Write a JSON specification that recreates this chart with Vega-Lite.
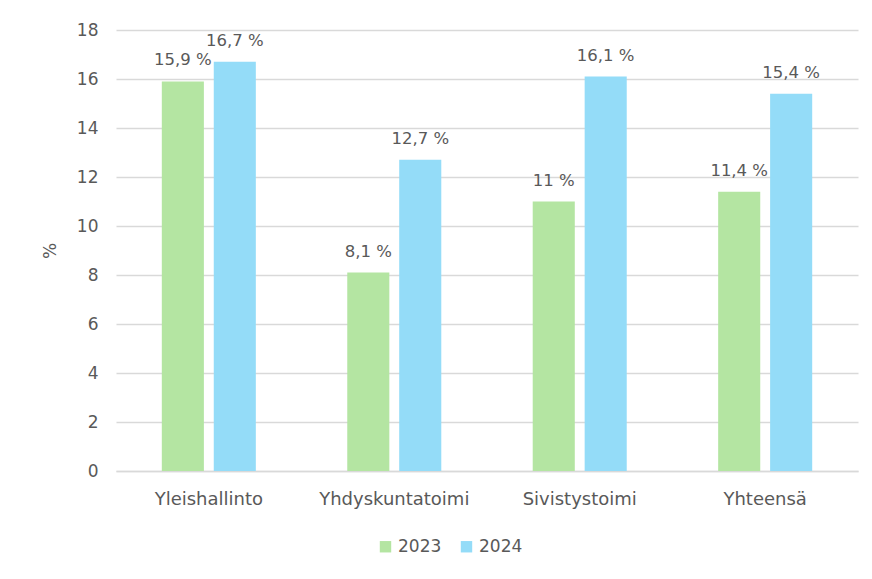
{
  "$schema": "https://vega.github.io/schema/vega-lite/v6.json",
  "width": 742,
  "height": 441,
  "padding": {"left": 41, "top": 21, "right": 15, "bottom": 10},
  "background": "white",
  "data": {
    "values": [
      {"category": "Yleishallinto", "year": "2023", "value": 15.9, "label": "15,9 %"},
      {"category": "Yleishallinto", "year": "2024", "value": 16.7, "label": "16,7 %"},
      {"category": "Yhdyskuntatoimi", "year": "2023", "value": 8.1, "label": "8,1 %"},
      {"category": "Yhdyskuntatoimi", "year": "2024", "value": 12.7, "label": "12,7 %"},
      {"category": "Sivistystoimi", "year": "2023", "value": 11, "label": "11 %"},
      {"category": "Sivistystoimi", "year": "2024", "value": 16.1, "label": "16,1 %"},
      {"category": "Yhteensä", "year": "2023", "value": 11.4, "label": "11,4 %"},
      {"category": "Yhteensä", "year": "2024", "value": 15.4, "label": "15,4 %"}
    ]
  },
  "encoding": {
    "x": {
      "field": "category",
      "type": "nominal",
      "sort": null,
      "scale": {"paddingInner": 0.493, "paddingOuter": 0.247},
      "axis": {
        "title": null,
        "labelAngle": 0,
        "ticks": false,
        "domainColor": "#D9D9D9",
        "domainWidth": 1.5,
        "labelPadding": 19,
        "labelFontSize": 18,
        "labelColor": "#595959",
        "grid": false
      }
    },
    "xOffset": {"field": "year", "type": "nominal", "scale": {"paddingInner": 0.19, "paddingOuter": 0}},
    "y": {
      "field": "value",
      "type": "quantitative",
      "scale": {"domain": [0, 18], "nice": false},
      "axis": {
        "title": "%",
        "titleFontSize": 17,
        "titleFontWeight": "normal",
        "titleColor": "#595959",
        "titlePadding": 17,
        "values": [0, 2, 4, 6, 8, 10, 12, 14, 16, 18],
        "labelOverlap": false,
        "domain": false,
        "ticks": false,
        "labelPadding": 18,
        "labelFontSize": 17,
        "labelColor": "#595959",
        "gridColor": "#D9D9D9",
        "gridWidth": 1.5
      }
    }
  },
  "layer": [
    {
      "mark": {"type": "bar"},
      "encoding": {
        "color": {
          "field": "year",
          "type": "nominal",
          "scale": {"domain": ["2023", "2024"], "range": ["#B4E5A2", "#94DCF8"]},
          "legend": {
            "title": null,
            "orient": "none",
            "legendX": 261,
            "legendY": 508,
            "direction": "horizontal",
            "symbolType": "square",
            "symbolSize": 130,
            "symbolStrokeWidth": 0,
            "labelFontSize": 17,
            "labelColor": "#595959",
            "columnPadding": 16
          }
        }
      }
    },
    {
      "mark": {"type": "text", "baseline": "bottom", "dy": -13, "fontSize": 16.5, "color": "#595959"},
      "encoding": {"text": {"field": "label"}}
    }
  ],
  "config": {
    "font": "DejaVu Sans",
    "view": {"stroke": null}
  }
}
